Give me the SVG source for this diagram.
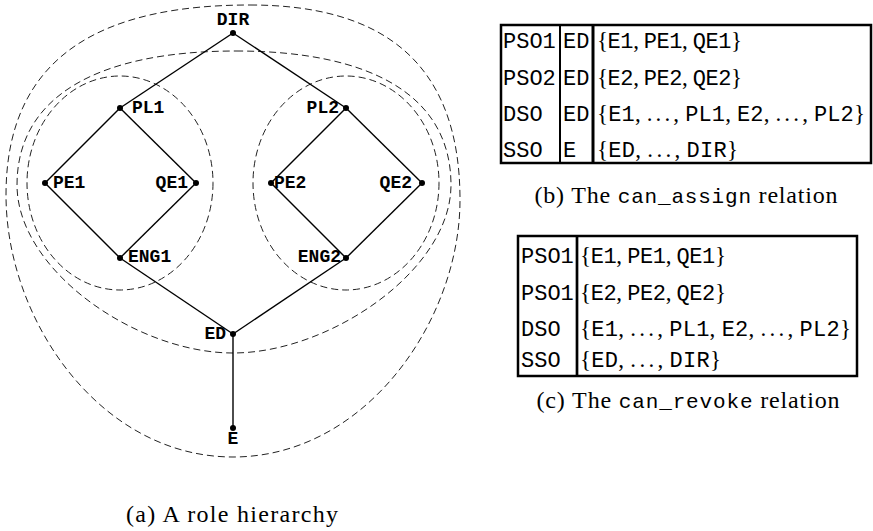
<svg xmlns="http://www.w3.org/2000/svg" width="873" height="531" viewBox="0 0 873 531">
<style>
.edge{stroke:#000;stroke-width:1.4;fill:none}
.range{stroke:#222;stroke-width:1;fill:none;stroke-dasharray:7 4}
.dot{fill:#000}
.lbl{font-family:"Liberation Mono","DejaVu Sans Mono",monospace;font-weight:bold;font-size:18px;fill:#000}
.tt{font-family:"Liberation Mono","DejaVu Sans Mono",monospace;font-size:22px}
.rm{font-family:"Liberation Serif","DejaVu Serif",serif;font-size:23px;fill:#000}
.cap{font-family:"Liberation Serif","DejaVu Serif",serif;font-size:24px;fill:#000}
.ctt{font-family:"Liberation Mono","DejaVu Sans Mono",monospace;font-size:21px}
.dots{letter-spacing:3px}
.border{fill:none;stroke:#000;stroke-width:2.5}
.col{stroke:#000}
</style>
<rect width="873" height="531" fill="#fff"/>

<g id="ranges">
  <path class="range" d="M 250,5 C 380,5 460,60 460,200 C 460,320 366,457 233,457 C 100,457 6,320 6,195 C 6,50 110,5 250,5 Z"/>
  <path class="range" d="M 236,51 C 370,51 451,95 451,185 C 451,270 330,353 233,353 C 136,353 17,270 17,185 C 17,95 100,51 236,51 Z"/>
  <ellipse class="range" cx="120" cy="183" rx="93" ry="107"/>
  <ellipse class="range" cx="346" cy="183" rx="93" ry="107"/>
</g>

<g id="connectors">
  <line class="edge" x1="233" y1="33" x2="120" y2="108"/>
  <line class="edge" x1="233" y1="33" x2="346" y2="108"/>
  <line class="edge" x1="120" y1="108" x2="45" y2="183"/>
  <line class="edge" x1="120" y1="108" x2="196" y2="183"/>
  <line class="edge" x1="45" y1="183" x2="120" y2="258"/>
  <line class="edge" x1="196" y1="183" x2="120" y2="258"/>
  <line class="edge" x1="346" y1="108" x2="271" y2="183"/>
  <line class="edge" x1="346" y1="108" x2="422" y2="183"/>
  <line class="edge" x1="271" y1="183" x2="346" y2="258"/>
  <line class="edge" x1="422" y1="183" x2="346" y2="258"/>
  <line class="edge" x1="120" y1="258" x2="233" y2="334"/>
  <line class="edge" x1="346" y1="258" x2="233" y2="334"/>
  <line class="edge" x1="233" y1="334" x2="233" y2="428"/>
</g>

<g id="DIR"><circle class="dot" cx="233" cy="33" r="3"/><text class="lbl" x="233" y="25" text-anchor="middle">DIR</text></g>
<g id="PL1"><circle class="dot" cx="120" cy="108" r="3"/><text class="lbl" x="132" y="113">PL1</text></g>
<g id="PL2"><circle class="dot" cx="346" cy="108" r="3"/><text class="lbl" x="339" y="113" text-anchor="end">PL2</text></g>
<g id="PE1"><circle class="dot" cx="45" cy="183" r="3"/><text class="lbl" x="53" y="188">PE1</text></g>
<g id="QE1"><circle class="dot" cx="196" cy="183" r="3"/><text class="lbl" x="188" y="188" text-anchor="end">QE1</text></g>
<g id="PE2"><circle class="dot" cx="271" cy="183" r="3"/><text class="lbl" x="274" y="188">PE2</text></g>
<g id="QE2"><circle class="dot" cx="422" cy="183" r="3"/><text class="lbl" x="412" y="188" text-anchor="end">QE2</text></g>
<g id="ENG1"><circle class="dot" cx="120" cy="258" r="3"/><text class="lbl" x="128" y="262">ENG1</text></g>
<g id="ENG2"><circle class="dot" cx="346" cy="258" r="3"/><text class="lbl" x="341" y="262" text-anchor="end">ENG2</text></g>
<g id="ED"><circle class="dot" cx="233" cy="334" r="3"/><text class="lbl" x="226" y="339" text-anchor="end">ED</text></g>
<g id="E"><circle class="dot" cx="233" cy="428" r="3"/><text class="lbl" x="233" y="444" text-anchor="middle">E</text></g>

<text class="cap" x="232" y="522" text-anchor="middle" textLength="212" lengthAdjust="spacing">(a) A role hierarchy</text>

<g id="can_assign">
  <rect class="border" x="501" y="25" width="370" height="138"/>
  <line class="col" x1="560" y1="25" x2="560" y2="163" stroke-width="2"/>
  <line class="col" x1="593" y1="25" x2="593" y2="163" stroke-width="3"/>
  <text class="tt" x="503" y="48">PSO1</text>
  <text class="tt" x="503" y="84.5">PSO2</text>
  <text class="tt" x="503" y="120.5">DSO</text>
  <text class="tt" x="503" y="157">SSO</text>
  <text class="tt" x="563" y="48">ED</text>
  <text class="tt" x="563" y="84.5">ED</text>
  <text class="tt" x="563" y="120.5">ED</text>
  <text class="tt" x="563" y="157">E</text>
  <text class="rm" x="597" y="48" textLength="145" lengthAdjust="spacing">{<tspan class="tt">E1</tspan>, <tspan class="tt">PE1</tspan>, <tspan class="tt">QE1</tspan>}</text>
  <text class="rm" x="597" y="84.5" textLength="145" lengthAdjust="spacing">{<tspan class="tt">E2</tspan>, <tspan class="tt">PE2</tspan>, <tspan class="tt">QE2</tspan>}</text>
  <text class="rm" x="597" y="120.5" textLength="268" lengthAdjust="spacing">{<tspan class="tt">E1</tspan>, <tspan class="dots">...</tspan>, <tspan class="tt">PL1</tspan>, <tspan class="tt">E2</tspan>, <tspan class="dots">...</tspan>, <tspan class="tt">PL2</tspan>}</text>
  <text class="rm" x="597" y="157" textLength="141" lengthAdjust="spacing">{<tspan class="tt">ED</tspan>, <tspan class="dots">...</tspan>, <tspan class="tt">DIR</tspan>}</text>
</g>
<text class="cap" x="686" y="203" text-anchor="middle" textLength="303" lengthAdjust="spacing">(b) The <tspan class="ctt">can_assign</tspan> relation</text>

<g id="can_revoke">
  <rect class="border" x="518" y="236" width="339" height="140"/>
  <line class="col" x1="577" y1="236" x2="577" y2="376" stroke-width="2.7"/>
  <text class="tt" x="521" y="263">PSO1</text>
  <text class="tt" x="521" y="300">PSO1</text>
  <text class="tt" x="521" y="336">DSO</text>
  <text class="tt" x="521" y="367">SSO</text>
  <text class="rm" x="580" y="263" textLength="146" lengthAdjust="spacing">{<tspan class="tt">E1</tspan>, <tspan class="tt">PE1</tspan>, <tspan class="tt">QE1</tspan>}</text>
  <text class="rm" x="580" y="300" textLength="146" lengthAdjust="spacing">{<tspan class="tt">E2</tspan>, <tspan class="tt">PE2</tspan>, <tspan class="tt">QE2</tspan>}</text>
  <text class="rm" x="580" y="336" textLength="271" lengthAdjust="spacing">{<tspan class="tt">E1</tspan>, <tspan class="dots">...</tspan>, <tspan class="tt">PL1</tspan>, <tspan class="tt">E2</tspan>, <tspan class="dots">...</tspan>, <tspan class="tt">PL2</tspan>}</text>
  <text class="rm" x="580" y="367" textLength="141" lengthAdjust="spacing">{<tspan class="tt">ED</tspan>, <tspan class="dots">...</tspan>, <tspan class="tt">DIR</tspan>}</text>
</g>
<text class="cap" x="688" y="408" text-anchor="middle" textLength="303" lengthAdjust="spacing">(c) The <tspan class="ctt">can_revoke</tspan> relation</text>
</svg>
